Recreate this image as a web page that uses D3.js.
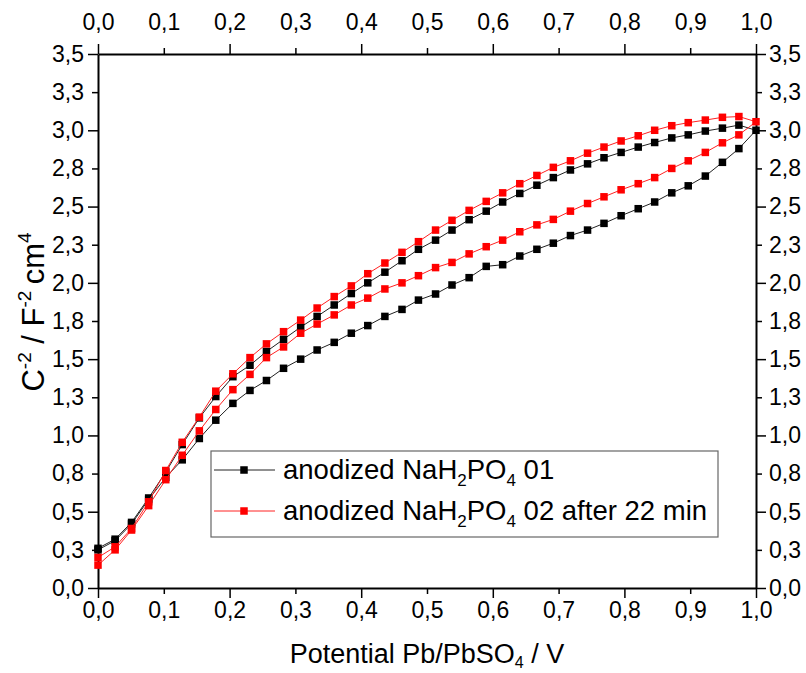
<!DOCTYPE html>
<html>
<head>
<meta charset="utf-8">
<script src="https://cdn.jsdelivr.net/npm/d3@7"></script>
<style>
body { margin: 0; background: #fff; }
.axis path, .axis line { stroke: #000; }
.axis path { stroke-width: 2px; }
.axis line { stroke-width: 1.5px; }
.axis text { font-family: "Liberation Sans", Arial, sans-serif; font-size: 23px; fill: #000; }
.title { font-family: "Liberation Sans", Arial, sans-serif; fill: #000; }
</style>
</head>
<body>
<script>
var width = 806,
    height = 673;
var margin = {left: 98, right: 50, top: 54, bottom: 85};

// potential (V), one sweep
var voltage = [0, 0.026, 0.051, 0.077, 0.103, 0.128, 0.154, 0.179, 0.205, 0.231,
               0.256, 0.282, 0.308, 0.333, 0.359, 0.385, 0.410, 0.436, 0.462, 0.487,
               0.513, 0.538, 0.564, 0.590, 0.615, 0.641, 0.667, 0.692, 0.718, 0.744,
               0.769, 0.795, 0.821, 0.846, 0.872, 0.897, 0.923, 0.949, 0.974, 1.0];

// series 01 (black)
var black_fwd = [0.25, 0.31, 0.42, 0.58, 0.725, 0.84, 0.98, 1.10, 1.21, 1.295,
                 1.36, 1.44, 1.50, 1.56, 1.61, 1.67, 1.72, 1.78, 1.826, 1.887,
                 1.927, 1.986, 2.034, 2.108, 2.119, 2.176, 2.22, 2.26, 2.31, 2.346,
                 2.39, 2.44, 2.486, 2.53, 2.59, 2.636, 2.70, 2.79, 2.88, 3.0];
var black_back = [0.26, 0.32, 0.43, 0.59, 0.76, 0.94, 1.115, 1.255, 1.385, 1.46,
                  1.55, 1.63, 1.71, 1.78, 1.855, 1.93, 2.00, 2.07, 2.145, 2.22,
                  2.28, 2.346, 2.414, 2.47, 2.53, 2.586, 2.64, 2.69, 2.74, 2.78,
                  2.82, 2.855, 2.89, 2.92, 2.95, 2.97, 2.995, 3.014, 3.034];

// series 02 (red)
var red_fwd = [0.15, 0.25, 0.38, 0.54, 0.71, 0.87, 1.03, 1.17, 1.30, 1.40,
               1.51, 1.58, 1.67, 1.73, 1.79, 1.855, 1.90, 1.96, 2.00, 2.047,
               2.10, 2.134, 2.19, 2.237, 2.28, 2.335, 2.38, 2.416, 2.47, 2.52,
               2.564, 2.61, 2.65, 2.69, 2.75, 2.80, 2.855, 2.918, 2.97, 3.056];
var red_back = [0.20, 0.27, 0.39, 0.565, 0.77, 0.955, 1.12, 1.29, 1.404, 1.51,
                1.60, 1.68, 1.756, 1.835, 1.91, 1.98, 2.06, 2.13, 2.20, 2.27,
                2.346, 2.41, 2.475, 2.534, 2.59, 2.65, 2.704, 2.757, 2.80, 2.85,
                2.89, 2.93, 2.964, 3.0, 3.03, 3.05, 3.067, 3.085, 3.09];

var xTicks = [0, 0.1, 0.2, 0.3, 0.4, 0.5, 0.6, 0.7, 0.8, 0.9, 1.0];
var xTickLabels = ["0,0", "0,1", "0,2", "0,3", "0,4", "0,5", "0,6", "0,7", "0,8", "0,9", "1,0"];
var yTicks = [0, 0.25, 0.5, 0.75, 1.0, 1.25, 1.5, 1.75, 2.0, 2.25, 2.5, 2.75, 3.0, 3.25, 3.5];
var yTickLabels = ["0,0", "0,3", "0,5", "0,8", "1,0", "1,3", "1,5", "1,8", "2,0", "2,3", "2,5", "2,8", "3,0", "3,3", "3,5"];

function loop(fwd, back) {
    var pts = [];
    fwd.forEach(function(d, i) { pts.push([voltage[i], d]); });
    for (var i = back.length - 1; i >= 0; i--) pts.push([voltage[i], back[i]]);
    return pts;
}

var series = [
    {name: "01", color: "#000", line: "#222", points: loop(black_fwd, black_back)},
    {name: "02 after 22 min", color: "#f00", line: "#f22", points: loop(red_fwd, red_back)}
];

var xScale = d3.scaleLinear()
    .domain([0, 1])
    .range([margin.left, width - margin.right]);
var yScale = d3.scaleLinear()
    .domain([0, 3.5])
    .range([height - margin.bottom, margin.top]);

var svg = d3.select("body")
    .append("svg")
    .attr("width", width)
    .attr("height", height);

function fmt(ticks, labels) {
    return function(d) { return labels[ticks.indexOf(d)]; };
}

var xBottom = d3.axisBottom(xScale).tickValues(xTicks).tickFormat(fmt(xTicks, xTickLabels)).tickSize(10).tickSizeOuter(0).tickPadding(4);
var xTop = d3.axisTop(xScale).tickValues(xTicks).tickFormat(fmt(xTicks, xTickLabels)).tickSize(10).tickSizeOuter(0).tickPadding(14);
var yLeft = d3.axisLeft(yScale).tickValues(yTicks).tickFormat(fmt(yTicks, yTickLabels)).tickSize(10).tickSizeOuter(0).tickPadding(4);
var yRight = d3.axisRight(yScale).tickValues(yTicks).tickFormat(fmt(yTicks, yTickLabels)).tickSize(10).tickSizeOuter(0).tickPadding(3);

var gB = svg.append("g").attr("class", "axis").attr("transform", "translate(0," + yScale(0) + ")").call(xBottom);
var gT = svg.append("g").attr("class", "axis").attr("transform", "translate(0," + yScale(3.5) + ")").call(xTop);
var gL = svg.append("g").attr("class", "axis").attr("transform", "translate(" + xScale(0) + ",0)").call(yLeft);
var gR = svg.append("g").attr("class", "axis").attr("transform", "translate(" + xScale(1) + ",0)").call(yRight);

// shorter minor ticks
gB.selectAll(".tick line").attr("y2", function(d, i) { return i % 2 ? 6 : 10; });
gT.selectAll(".tick line").attr("y2", function(d, i) { return i % 2 ? -6 : -10; });
gL.selectAll(".tick line").attr("x2", function(d, i) { return i % 2 ? -6 : -10; });
gR.selectAll(".tick line").attr("x2", function(d, i) { return i % 2 ? 6 : 10; });

var line = d3.line()
    .x(function(d) { return xScale(d[0]); })
    .y(function(d) { return yScale(d[1]); });

var ms = 7.5;
series.forEach(function(s) {
    svg.append("path")
        .attr("d", line(s.points))
        .attr("fill", "none")
        .attr("stroke", s.line)
        .attr("stroke-width", 1);
    svg.selectAll(null)
        .data(s.points)
        .enter()
        .append("rect")
        .attr("x", function(d) { return xScale(d[0]) - ms / 2; })
        .attr("y", function(d) { return yScale(d[1]) - ms / 2; })
        .attr("width", ms)
        .attr("height", ms)
        .attr("fill", s.color);
});

// legend
var legend = svg.append("g");
legend.append("rect")
    .attr("x", 211).attr("y", 451)
    .attr("width", 507).attr("height", 86)
    .attr("fill", "#fff")
    .attr("stroke", "#666")
    .attr("stroke-width", 1.2);

series.forEach(function(s, i) {
    var y = 470 + i * 41;
    legend.append("line")
        .attr("x1", 214).attr("x2", 275)
        .attr("y1", y).attr("y2", y)
        .attr("stroke", s.line)
        .attr("stroke-width", 1);
    legend.append("rect")
        .attr("x", 244 - ms / 2).attr("y", y - ms / 2)
        .attr("width", ms).attr("height", ms)
        .attr("fill", s.color);
    var t = legend.append("text")
        .attr("class", "title")
        .attr("x", 283).attr("y", y + 9)
        .style("font-size", "27.5px");
    t.append("tspan").text("anodized NaH");
    t.append("tspan").text("2").style("font-size", "17px").attr("dy", 7);
    t.append("tspan").text("PO").attr("dy", -7);
    t.append("tspan").text("4").style("font-size", "17px").attr("dy", 7);
    t.append("tspan").text(" " + s.name).attr("dy", -7);
});

// axis titles
var xt = svg.append("text")
    .attr("class", "title")
    .attr("x", (xScale(0) + xScale(1)) / 2)
    .attr("y", 663)
    .attr("text-anchor", "middle")
    .style("font-size", "27px");
xt.append("tspan").text("Potential Pb/PbSO");
xt.append("tspan").text("4").style("font-size", "16px").attr("dy", 5);
xt.append("tspan").text(" / V").attr("dy", -5);

var yt = svg.append("text")
    .attr("class", "title")
    .attr("transform", "translate(44," + 312 + ") rotate(-90)")
    .attr("text-anchor", "middle")
    .style("font-size", "31px");
yt.append("tspan").text("C");
yt.append("tspan").text("-2").style("font-size", "19px").attr("dy", -13);
yt.append("tspan").text("\u00a0/ F").attr("dy", 13);
yt.append("tspan").text("-2").style("font-size", "19px").attr("dy", -13);
yt.append("tspan").text("\u2009cm").attr("dy", 13);
yt.append("tspan").text("4").style("font-size", "19px").attr("dy", -13);
</script>
</body>
</html>
